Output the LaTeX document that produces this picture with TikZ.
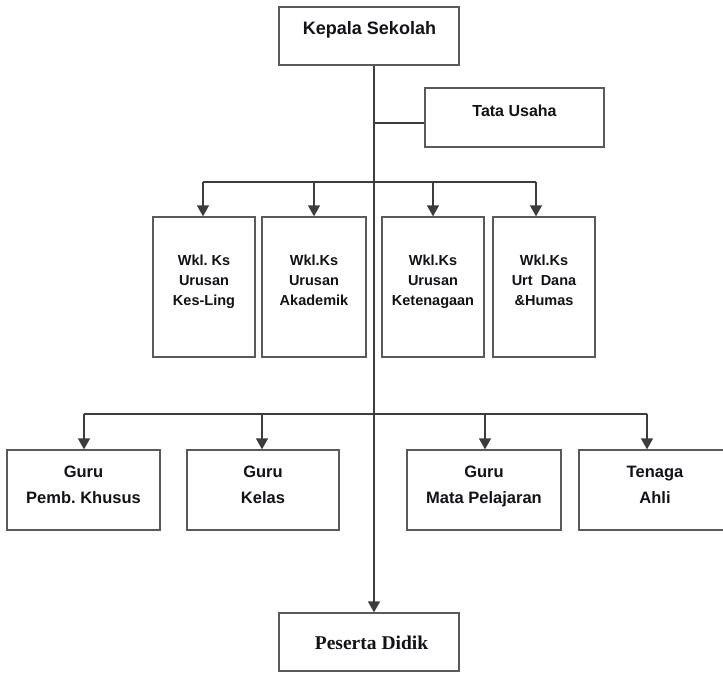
\documentclass[tikz,border=0pt]{standalone}
\usepackage{fontspec}
\setmainfont{Liberation Sans}
\newfontfamily\pdserif{Liberation Serif}
\usetikzlibrary{arrows.meta}
\definecolor{boxgray}{HTML}{5A5A5A}
\definecolor{linegray}{HTML}{3C3C3C}
\definecolor{txt}{HTML}{121218}

\begin{document}
\begin{tikzpicture}[x=1pt,y=-1pt,
  box/.style={draw=boxgray, line width=1.3pt, fill=white, inner sep=0pt},
  lbl/.style={align=center, text=txt, inner sep=0pt},
  big/.style={lbl, font=\bfseries\fontsize{18}{22}\selectfont},
  mid/.style={lbl, font=\bfseries\fontsize{16}{20}\selectfont},
  wkl/.style={lbl, font=\bfseries\fontsize{14.5}{20}\selectfont},
  guru/.style={lbl, font=\bfseries\fontsize{16.5}{26}\selectfont},
  link/.style={draw=linegray, line width=1.3pt},
  arr/.style={link, -{Triangle[length=11pt,width=12pt]}}]

\useasboundingbox (0,0) rectangle (723,673);

% top level
\node[box, minimum width=180pt, minimum height=58pt] (ks) at (369,36) {};
\node[big] (kst) at (369.5,30) {\strut Kepala Sekolah};
\node[box, minimum width=179pt, minimum height=59pt] (tu) at (514.5,117.5) {};
\node[mid] (tut) at (514.5,112) {\strut Tata Usaha};

% vice principals
\node[box, minimum width=102pt, minimum height=140pt] (w1) at (204,287) {};
\node[box, minimum width=104pt, minimum height=140pt] (w2) at (314,287) {};
\node[box, minimum width=102pt, minimum height=140pt] (w3) at (433,287) {};
\node[box, minimum width=102pt, minimum height=140pt] (w4) at (544,287) {};
\node[wkl] (w1t) at (204,281) {\strut Wkl.\ Ks\\Urusan\\Kes-Ling\strut};
\node[wkl] (w2t) at (314,281) {\strut Wkl.Ks\\Urusan\\Akademik\strut};
\node[wkl] (w3t) at (433,281) {\strut Wkl.Ks\\Urusan\\Ketenagaan\strut};
\node[wkl] (w4t) at (544,281) {\strut Wkl.Ks\\Urt\ \ Dana\\\&Humas\strut};

% teachers
\node[box, minimum width=153pt, minimum height=80pt] (g1) at (83.5,490) {};
\node[box, minimum width=152pt, minimum height=80pt] (g2) at (263,490) {};
\node[box, minimum width=154pt, minimum height=80pt] (g3) at (484,490) {};
\node[box, minimum width=152pt, minimum height=80pt] (g4) at (655,490) {};
\node[guru] (g1t) at (83.5,485) {\strut Guru\\Pemb.\ Khusus\strut};
\node[guru] (g2t) at (263,485) {\strut Guru\\Kelas\strut};
\node[guru] (g3t) at (484,485) {\strut Guru\\Mata Pelajaran\strut};
\node[guru] (g4t) at (655,485) {\strut Tenaga\\Ahli\strut};

% students
\node[box, minimum width=180pt, minimum height=58pt] (pd) at (369,642) {};
\node[lbl, font=\pdserif\bfseries\fontsize{19.5}{22}\selectfont] (pdt) at (371.5,645) {\strut Peserta Didik};

% junctions on the main line
\coordinate (jt) at (374,123);
\coordinate (jw) at (374,182);
\coordinate (jg) at (374,414);

% branch points
\coordinate (bw1) at (203,182);
\coordinate (bw2) at (314,182);
\coordinate (bw3) at (433,182);
\coordinate (bw4) at (536,182);
\coordinate (bg1) at (84,414);
\coordinate (bg2) at (262,414);
\coordinate (bg3) at (485,414);
\coordinate (bg4) at (647,414);

% main vertical line
\draw[arr] (ks.south -| jt) -- (jt) -- (jw) -- (jg) -- (pd.north -| jt);
\draw[link] (jt) -- (tu.west |- jt);

% vice principal branch
\draw[link] (bw1) -- (bw4);
\foreach \b/\n in {bw1/w1, bw2/w2, bw3/w3, bw4/w4}
  \draw[arr] (\b) -- (\b |- \n.north);

% teacher branch
\draw[link] (bg1) -- (bg4);
\foreach \b/\n in {bg1/g1, bg2/g2, bg3/g3, bg4/g4}
  \draw[arr] (\b) -- (\b |- \n.north);
\end{tikzpicture}
\end{document}
